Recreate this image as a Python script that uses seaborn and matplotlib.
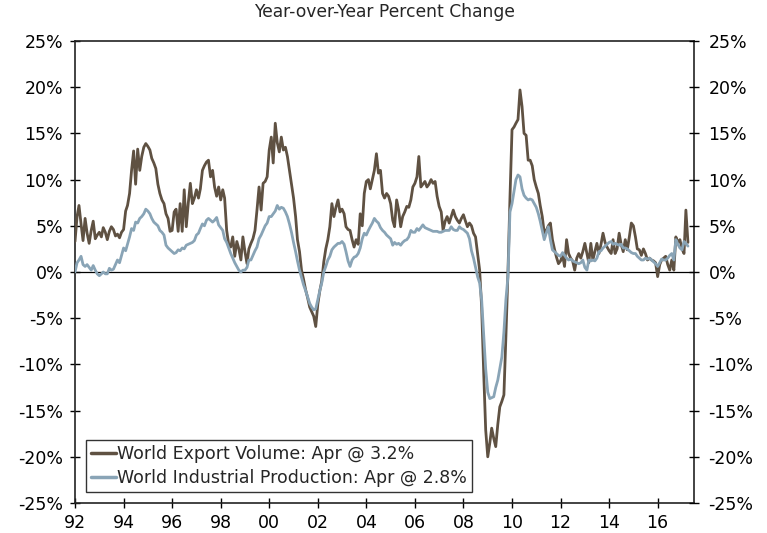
import matplotlib
matplotlib.use("Agg")
import matplotlib.pyplot as plt
from matplotlib.ticker import FuncFormatter
import pandas as pd
import seaborn as sns

start_month = "1992-01-01"

# World export volume, YoY % change, monthly Jan-1992 .. Apr-2017 (one row per year)
export_volume = [
    3.3, 6.0, 7.2, 5.2, 3.4, 5.8, 4.2, 3.1, 4.5, 5.5, 3.6, 4.0,          # 1992
    4.3, 3.8, 4.8, 4.3, 3.5, 4.4, 4.9, 4.6, 3.9, 4.1, 3.7, 4.3,          # 1993
    4.6, 6.6, 7.2, 8.5, 11.0, 13.1, 9.5, 13.3, 11.0, 12.5, 13.5, 13.9,   # 1994
    13.6, 13.2, 12.3, 11.8, 11.2, 9.5, 8.5, 7.8, 7.4, 6.3, 5.8, 4.4,     # 1995
    4.5, 6.5, 6.8, 4.4, 7.4, 4.4, 8.9, 4.9, 7.5, 9.6, 7.4, 8.0,          # 1996
    8.9, 8.0, 9.0, 11.0, 11.5, 11.9, 12.1, 10.3, 11.0, 9.2, 8.2, 9.2,    # 1997
    7.8, 8.9, 8.0, 4.5, 3.0, 2.7, 3.8, 1.7, 3.3, 2.5, 1.3, 3.8,          # 1998
    2.2, 0.9, 2.5, 3.1, 3.6, 4.5, 6.7, 9.2, 6.7, 9.6, 9.8, 10.3,         # 1999
    13.2, 14.6, 11.8, 16.1, 14.0, 13.0, 14.6, 13.2, 13.5, 12.5, 11.0, 9.6,  # 2000
    8.0, 6.0, 3.5, 2.2, 0.2, -0.8, -1.9, -2.8, -3.8, -4.3, -4.8, -5.9,   # 2001
    -3.5, -2.0, -1.0, 1.1, 2.5, 3.5, 4.9, 7.4, 6.0, 7.0, 7.8, 6.5,       # 2002
    6.8, 6.3, 4.9, 4.6, 4.5, 3.5, 2.7, 3.5, 3.0, 6.3, 5.0, 8.5,          # 2003
    9.8, 10.0, 9.0, 10.0, 11.0, 12.8, 10.7, 11.0, 8.5, 8.0, 8.5, 8.2,    # 2004
    7.4, 5.6, 4.9, 7.8, 6.7, 4.9, 6.0, 6.5, 7.1, 7.0, 7.8, 9.2,          # 2005
    9.6, 10.3, 12.5, 9.2, 9.5, 9.8, 9.2, 9.5, 10.0, 9.6, 9.8, 8.2,       # 2006
    7.1, 6.5, 4.5, 5.5, 6.0, 5.3, 6.0, 6.7, 6.0, 5.6, 5.3, 5.8,          # 2007
    6.2, 5.5, 4.9, 5.3, 5.0, 4.2, 3.8, 2.0, 0.2, -3.8, -10.9, -17.1,     # 2008
    -20.0, -18.5, -16.9, -18.0, -18.9, -16.5, -14.6, -14.0, -13.3, -7.0, 0.0, 8.0,  # 2009
    15.4, 15.7, 16.1, 16.5, 19.7, 17.9, 15.0, 14.8, 12.1, 12.1, 11.5, 10.0,  # 2010
    9.2, 8.5, 7.2, 6.0, 4.2, 4.5, 5.0, 5.3, 3.5, 2.5, 1.6, 0.9,          # 2011
    1.2, 1.8, 0.6, 3.5, 2.0, 1.5, 1.2, 0.2, 1.5, 2.0, 1.5, 2.2,          # 2012
    3.1, 2.0, 1.0, 3.1, 1.3, 2.2, 3.1, 2.0, 3.0, 4.2, 3.2, 2.7,          # 2013
    2.3, 2.0, 3.5, 2.0, 2.5, 4.2, 3.0, 2.2, 3.5, 2.4, 3.8, 5.3,          # 2014
    5.0, 3.8, 2.5, 2.4, 1.8, 2.5, 2.0, 1.3, 1.5, 1.3, 1.2, 1.0,          # 2015
    -0.5, 0.8, 1.3, 1.5, 1.7, 0.8, 0.2, 1.3, 0.2, 3.8, 3.2, 3.5,         # 2016
    2.5, 2.0, 6.7, 3.2,                                                  # 2017
]

# World industrial production, YoY % change, monthly Jan-1992 .. Apr-2017
industrial_production = [
    0.0, 1.0, 1.3, 1.7, 0.8, 0.6, 0.8, 0.5, 0.2, 0.7, 0.2, -0.2,         # 1992
    -0.4, -0.2, 0.0, -0.2, -0.2, 0.4, 0.2, 0.3, 0.8, 1.3, 1.0, 1.8,      # 1993
    2.6, 2.3, 3.0, 3.8, 4.7, 4.5, 5.4, 5.3, 5.8, 6.0, 6.3, 6.8,          # 1994
    6.6, 6.3, 5.8, 5.4, 5.2, 5.0, 4.5, 4.3, 4.0, 2.9, 2.6, 2.4,          # 1995
    2.2, 2.0, 2.1, 2.4, 2.3, 2.6, 2.5, 2.9, 3.0, 3.1, 3.2, 3.4,          # 1996
    4.0, 4.2, 4.7, 5.2, 5.0, 5.6, 5.8, 5.6, 5.4, 5.6, 5.9, 5.1,          # 1997
    4.8, 4.5, 3.6, 3.2, 2.6, 2.0, 1.5, 1.0, 0.6, 0.2, 0.0, 0.2,          # 1998
    0.2, 0.5, 1.3, 1.3, 1.8, 2.3, 2.7, 3.6, 4.0, 4.5, 5.0, 5.3,          # 1999
    6.0, 6.0, 6.3, 6.6, 7.2, 6.8, 7.0, 6.9, 6.5, 6.0, 5.2, 4.3,          # 2000
    3.2, 2.2, 1.2, 0.2, -0.6, -1.4, -2.0, -2.7, -3.4, -3.8, -4.1, -4.0,  # 2001
    -3.0, -2.0, -1.2, 0.0, 0.6, 1.3, 1.7, 2.4, 2.7, 2.9, 3.1, 3.1,       # 2002
    3.3, 3.0, 2.2, 1.2, 0.6, 1.3, 1.6, 1.7, 2.0, 2.6, 3.6, 4.2,          # 2003
    4.0, 4.5, 4.9, 5.3, 5.8, 5.5, 5.3, 4.8, 4.5, 4.3, 4.0, 3.8,          # 2004
    3.6, 2.9, 3.2, 3.0, 3.1, 2.9, 3.2, 3.4, 3.5, 3.8, 4.5, 4.3,          # 2005
    4.3, 4.7, 4.5, 4.8, 5.1, 4.8, 4.7, 4.6, 4.5, 4.4, 4.4, 4.4,          # 2006
    4.3, 4.3, 4.4, 4.5, 4.5, 4.5, 4.9, 4.6, 4.5, 4.5, 4.9, 4.7,          # 2007
    4.6, 4.4, 4.2, 3.6, 2.3, 1.5, 0.5, -0.5, -1.2, -3.0, -6.8, -10.5,    # 2008
    -13.0, -13.7, -13.6, -13.5, -12.5, -11.7, -10.5, -9.2, -6.5, -3.0, -0.5, 6.5,  # 2009
    7.4, 8.8, 10.0, 10.5, 10.3, 9.0, 8.3, 8.0, 7.8, 7.9, 7.8, 7.4,       # 2010
    7.0, 6.3, 5.5, 4.5, 3.5, 4.2, 4.9, 3.5, 2.4, 2.2, 2.0, 1.8,          # 2011
    1.7, 2.1, 1.8, 1.5, 1.3, 1.4, 1.2, 1.1, 1.0, 0.9, 1.0, 1.3,          # 2012
    0.5, 0.2, 1.3, 1.2, 1.3, 1.2, 1.5, 2.2, 2.3, 2.6, 2.8, 3.0,          # 2013
    3.2, 3.3, 3.0, 3.1, 3.0, 2.9, 3.0, 2.6, 2.6, 2.5, 2.3, 2.1,          # 2014
    2.0, 2.0, 1.7, 1.5, 1.3, 1.3, 1.5, 1.4, 1.5, 1.3, 1.1, 0.9,          # 2015
    0.6, 1.0, 1.4, 1.3, 1.3, 1.5, 1.8, 2.0, 1.3, 3.5, 3.0, 2.6,          # 2016
    2.4, 3.3, 3.1, 2.8,                                                  # 2017
]

series_labels = [
    "World Export Volume: Apr @ 3.2%",
    "World Industrial Production: Apr @ 2.8%",
]
series_colors = ["#5f5142", "#89a4b6"]
subtitle = "Year-over-Year Percent Change"
y_ticks = list(range(-25, 30, 5))
x_tick_years = list(range(1992, 2017, 2))

dates = pd.date_range(start_month, periods=len(export_volume), freq="MS")
df = pd.DataFrame({"date": dates,
                   "export": export_volume,
                   "ip": industrial_production})

sns.set_style("white")
plt.rcParams["font.family"] = ["DejaVu Sans"]

W, H = 767, 533
fig = plt.figure(figsize=(W / 100, H / 100), dpi=100)
ax = fig.add_axes([75 / W, 1 - 503 / H, (694 - 75) / W, (503 - 41) / H])

sns.lineplot(data=df, x="date", y="export", ax=ax, color=series_colors[0],
             linewidth=2.0, label=series_labels[0], zorder=3)
sns.lineplot(data=df, x="date", y="ip", ax=ax, color=series_colors[1],
             linewidth=2.0, label=series_labels[1], zorder=4)
ax.axhline(0, color="black", linewidth=0.9, zorder=2)

ax.set_ylim(-25, 25)
ax.set_xlim(pd.Timestamp("1992-01-01"), pd.Timestamp("2017-07-01"))
ax.set_yticks(y_ticks)
pct = FuncFormatter(lambda v, p: f"{v:.0f}%")
ax.yaxis.set_major_formatter(pct)
ax.set_xticks([pd.Timestamp(f"{y}-01-01") for y in x_tick_years])
ax.set_xticklabels([f"{y % 100:02d}" for y in x_tick_years])
ax.set_xlabel("")
ax.set_ylabel("")

for side in ["left", "right", "top", "bottom"]:
    ax.spines[side].set_visible(True)
    ax.spines[side].set_color("#222222")
    ax.spines[side].set_linewidth(1.2)
ax.tick_params(axis="both", direction="inout", length=7, width=1.0,
               pad=5.0, labelsize=12.5, colors="black")
ax.tick_params(axis="x", bottom=True, top=False, pad=4.5)
ax.tick_params(axis="y", left=True)

ax2 = ax.twinx()
ax2.set_ylim(-25, 25)
ax2.set_yticks(y_ticks)
ax2.yaxis.set_major_formatter(pct)
ax2.tick_params(axis="y", direction="inout", length=7, width=1.0,
                pad=7.0, labelsize=12.5, colors="black")
for side in ["left", "right", "top", "bottom"]:
    ax2.spines[side].set_visible(False)

ax.set_title(subtitle, fontsize=12.3, pad=17)

leg = ax.legend(loc="lower left", bbox_to_anchor=(0.018, 0.024),
                borderaxespad=0, frameon=True, fancybox=False,
                edgecolor="black", fontsize=12.5, handlelength=1.4,
                handletextpad=0.1, labelspacing=0.3, borderpad=0.3)
leg.get_frame().set_linewidth(1.0)
for line in leg.get_lines():
    line.set_linewidth(2.5)

fig.savefig("out.png", dpi=100)
